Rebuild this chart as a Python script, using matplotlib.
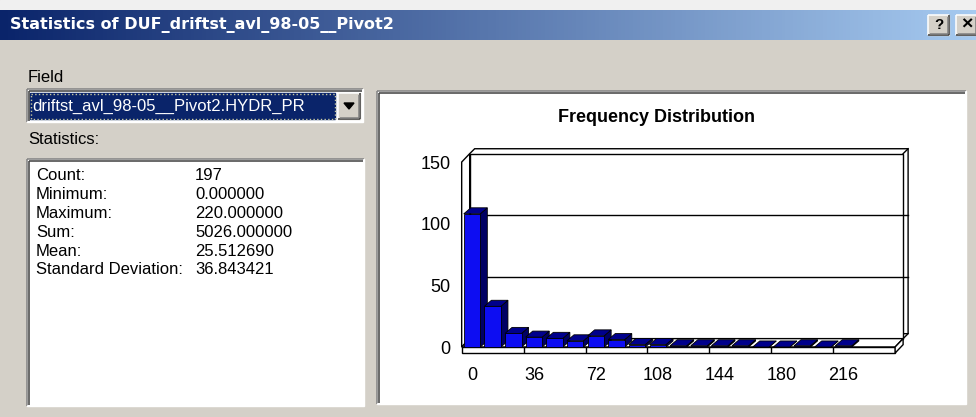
import matplotlib
matplotlib.use('Agg')
import matplotlib.pyplot as plt
from matplotlib.patches import Rectangle, Polygon
from matplotlib.colors import LinearSegmentedColormap
import numpy as np

plt.rcParams['font.family'] = ['Liberation Sans', 'DejaVu Sans']

bin_width = 12
bin_centers = [0, 12, 24, 36, 48, 60, 72, 84, 96, 108, 120, 132, 144, 156, 168, 180, 192, 204, 216]
counts = [108, 33, 11, 8, 7, 5, 9, 6, 2, 2, 1, 1, 1, 1, 0, 0, 1, 0, 1]
y_ticks = [0, 50, 100, 150]
x_ticks = [0, 36, 72, 108, 144, 180, 216]
grid_values = [50, 100]
stat_names = ['Count:', 'Minimum:', 'Maximum:', 'Sum:', 'Mean:', 'Standard Deviation:']
stat_values = ['197', '0.000000', '220.000000', '5026.000000', '25.512690', '36.843421']
window_title = 'Statistics of DUF_driftst_avl_98-05__Pivot2'
field_name = 'driftst_avl_98-05__Pivot2.HYDR_PR'

W, H = 976, 417
GRAY = '#D4D0C8'
fig = plt.figure(figsize=(W / 100, H / 100), dpi=100, facecolor=GRAY)

# background axes in pixel coordinates for the window chrome
bg = fig.add_axes([0, 0, 1, 1])
bg.set_xlim(0, W)
bg.set_ylim(H, 0)
bg.axis('off')

bg.add_patch(Rectangle((0, 0), W, 10, color='#F0F0F0', zorder=0))
cmap = LinearSegmentedColormap.from_list('tb', ['#0A246A', '#A6CAF0'])
bg.imshow(np.linspace(0, 1, 256)[None, :], cmap=cmap, extent=(0, W, 40, 10), aspect='auto', zorder=1)
bg.text(10, 25, window_title, color='white', fontsize=11.5, fontweight='bold',
        family='DejaVu Sans', va='center', ha='left', zorder=3)


def hline(x0, x1, y, c, lw=1.1):
    bg.plot([x0, x1], [y, y], color=c, lw=lw, solid_capstyle='butt', zorder=4)


def vline(x, y0, y1, c, lw=1.1):
    bg.plot([x, x], [y0, y1], color=c, lw=lw, solid_capstyle='butt', zorder=4)


def sunken(x0, y0, x1, y1, fill='white'):
    bg.add_patch(Rectangle((x0, y0), x1 - x0, y1 - y0, color=fill, zorder=2))
    hline(x0, x1, y0, '#808080')
    vline(x0, y0, y1, '#808080')
    hline(x0 + 1.5, x1 - 1.5, y0 + 1.5, '#404040')
    vline(x0 + 1.5, y0 + 1.5, y1 - 1.5, '#404040')
    hline(x0, x1, y1, '#FFFFFF')
    vline(x1, y0, y1, '#FFFFFF')


def raised(x0, y0, x1, y1):
    bg.add_patch(Rectangle((x0, y0), x1 - x0, y1 - y0, color=GRAY, zorder=2))
    hline(x0, x1, y0, '#FFFFFF')
    vline(x0, y0, y1, '#FFFFFF')
    hline(x0, x1, y1, '#404040')
    vline(x1, y0, y1, '#404040')
    hline(x0 + 1.5, x1 - 1.5, y1 - 1.5, '#808080')
    vline(x1 - 1.5, y0 + 1.5, y1 - 1.5, '#808080')


# title bar buttons
raised(928, 15, 949, 35)
bg.text(938.5, 25, '?', fontsize=11, fontweight='bold', ha='center', va='center', zorder=5)
raised(956, 15, 977, 35)
bg.text(966.5, 25, '×', fontsize=14, fontweight='bold', ha='center', va='center', zorder=5)

# field combo
bg.text(28, 77, 'Field', fontsize=12, va='center', ha='left')
sunken(27, 89, 363, 122)
bg.add_patch(Rectangle((30, 93), 305, 26, color='#0A246A', zorder=3))
bg.add_patch(Rectangle((30.5, 93.5), 304, 25, fill=False, ec='#C8C8A0', ls=':', lw=1, zorder=4))
bg.text(32, 106.5, field_name, color='white', fontsize=12, va='center', ha='left', zorder=5)
raised(338, 93, 360, 119)
bg.add_patch(Polygon([[344, 103], [354, 103], [349, 109]], closed=True, color='black', zorder=5))

# statistics list
bg.text(28, 140, 'Statistics:', fontsize=12, va='center', ha='left')
sunken(27, 159, 364, 406)
for i, (name, val) in enumerate(zip(stat_names, stat_values)):
    y = 175 + i * 19
    bg.text(36, y, name, fontsize=12, va='center', ha='left', zorder=5)
    bg.text(195, y, val, fontsize=12, va='center', ha='left', zorder=5)

# chart panel
sunken(377, 91, 966, 404)

# ---- chart axes: data units mapped onto the panel ----
PX_X0, SX = 472, 1.72      # pixel of x=0 and pixels per unit
PX_Y0, SY = 347, 1.233     # pixel of y=0 and pixels per unit
L, R, T, B = 380, 963, 94, 401
ax = fig.add_axes([L / W, (H - B) / H, (R - L) / W, (B - T) / H])
ax.set_xlim((L - PX_X0) / SX, (R - PX_X0) / SX)
ax.set_ylim((PX_Y0 - B) / SY, (PX_Y0 - T) / SY)
ax.set_facecolor('white')

x0 = bin_centers[0] - bin_width / 2
x1 = bin_centers[-1] + bin_width * 2.5
ytop = y_ticks[-1]
DX, DY = 4.65, 6.8          # depth of the box
TX, TY = 2.9, 4.0           # wall thickness
FT = 4.9                    # floor thickness
edge = dict(ec='black', lw=1.0)

# back wall with thickness
ax.add_patch(Polygon([[x0 + DX, DY], [x0 + DX + TX, DY + TY], [x1 + DX + TX, DY + TY],
                      [x1 + DX + TX, ytop + DY + TY], [x0 + DX + TX, ytop + DY + TY],
                      [x0 + DX, ytop + DY]], closed=True, fc='white', **edge, zorder=1))
ax.add_patch(Rectangle((x0 + DX, DY), x1 - x0, ytop, fc='white', **edge, zorder=2))
ax.plot([x1 + DX, x1 + DX + TX], [ytop + DY, ytop + DY + TY], color='black', lw=1.0, zorder=2)
ax.plot([x1 + DX, x1 + DX + TX], [DY, DY + TY], color='black', lw=1.0, zorder=2)
for g in grid_values:
    ax.plot([x0 + DX, x1 + DX + TX], [g + DY, g + DY], color='black', lw=1.0, zorder=3)

# left wall
ax.add_patch(Polygon([[x0, 0], [x0 + DX, DY], [x0 + DX, ytop + DY], [x0, ytop]],
                     closed=True, fc='white', **edge, zorder=3))
# floor
ax.add_patch(Polygon([[x0, 0], [x1, 0], [x1 + DX, DY], [x0 + DX, DY]],
                     closed=True, fc='white', **edge, zorder=3))
ax.add_patch(Rectangle((x0, -FT), x1 - x0, FT, fc='white', **edge, zorder=3))
ax.add_patch(Polygon([[x1, -FT], [x1 + DX, DY - FT], [x1 + DX, DY], [x1, 0]],
                     closed=True, fc='white', **edge, zorder=3))
ax.vlines([t - bin_width / 2 for t in x_ticks[1:]], -FT, 0, color='black', lw=1.0, zorder=3)

# 3D bars
bw = 9.6
bdx, bdy = 4.1, 4.9
for i, (c, h) in enumerate(zip(bin_centers, counts)):
    l, r = c - bw / 2, c + bw / 2
    z = 4 + i * 0.01
    ax.add_patch(Polygon([[r, 0], [r + bdx, bdy], [r + bdx, h + bdy], [r, h]],
                         closed=True, fc='#000064', ec='black', lw=0.6, zorder=z))
    ax.add_patch(Polygon([[l, h], [r, h], [r + bdx, h + bdy], [l + bdx, h + bdy]],
                         closed=True, fc='#00008C', ec='black', lw=0.6, zorder=z))
    ax.add_patch(Rectangle((l, 0), bw, h, fc='#0D0DF2', ec='black', lw=0.6, zorder=z))

# axis labels via the library's tick machinery
ax.spines['left'].set_position(('data', x0))
ax.spines['bottom'].set_position(('data', -FT))
for s in ax.spines.values():
    s.set_color('none')
ax.set_yticks(y_ticks)
ax.set_xticks(x_ticks)
ax.tick_params(axis='y', length=0, pad=8, labelsize=13)
ax.tick_params(axis='x', length=0, pad=10, labelsize=13)

fig.text(657 / W, 1 - 117 / H, 'Frequency Distribution', fontsize=13, fontweight='bold',
         ha='center', va='center')

fig.savefig('out.png', dpi=100, facecolor=GRAY)
